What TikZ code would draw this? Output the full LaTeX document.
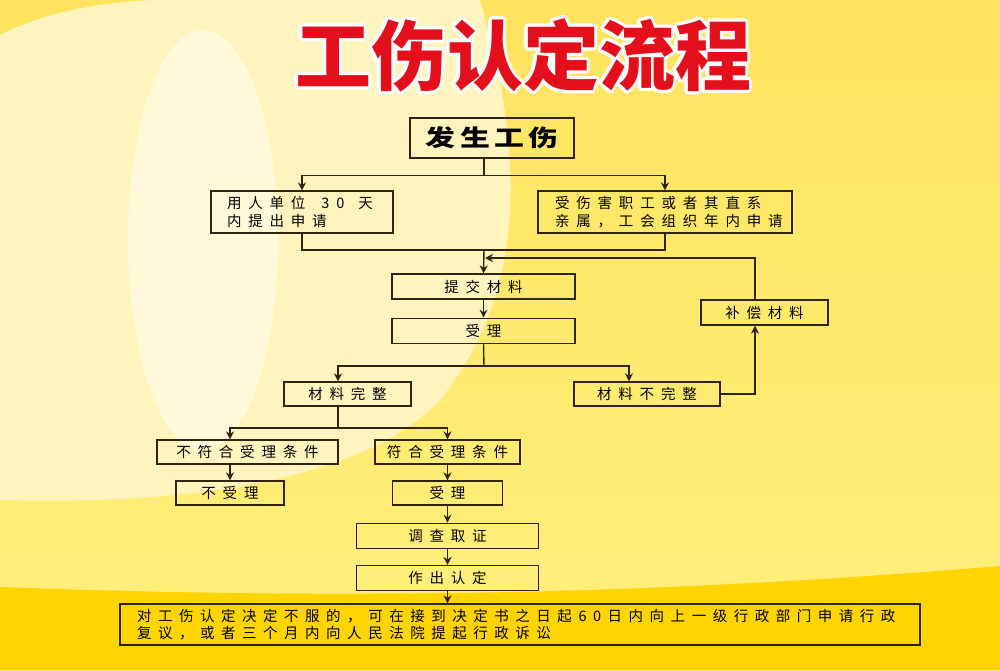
\documentclass[tikz,border=0pt]{standalone}
\usepackage{fontspec}
\usepackage[copies]{contour}
\usetikzlibrary{arrows.meta,positioning,calc}
\newfontfamily\titlefont{Noto Sans CJK SC}
\newfontfamily\headfont{Noto Sans CJK SC}[LetterSpace=18,FakeStretch=1.3]
\newfontfamily\boxfont{Noto Sans CJK SC}[LetterSpace=47]
\definecolor{bgtop}{HTML}{FFE35E}
\definecolor{bgbottom}{HTML}{FFF07E}
\definecolor{bgpale}{HTML}{FFF4BE}
\definecolor{bgglow}{HTML}{FFF9DA}
\definecolor{bgband}{HTML}{FFD400}
\definecolor{titlered}{HTML}{E3101C}
\definecolor{boxline}{HTML}{2E2410}
\contourlength{3.2pt}

\begin{document}
\begin{tikzpicture}[x=1pt,y=-1pt,
    >={Stealth[length=8pt,width=8pt]},
    link/.style={draw=boxline,line width=1.4pt},
    box/.style={draw=boxline,line width=1.3pt,minimum height=25pt,inner sep=0pt,
                font={\boxfont\fontsize{14.5pt}{17.5pt}\selectfont}},
    twoline/.style={box,minimum height=42pt,align=left,inner ysep=0pt},
    head/.style={draw=boxline,line width=1.3pt,minimum width=164pt,minimum height=40pt,
                 font={\headfont\bfseries\fontsize{23pt}{25pt}\selectfont}},
    title/.style={text=titlered,font={\titlefont\bfseries\fontsize{76pt}{80pt}\selectfont}}
  ]
  % background
  \fill[top color=bgtop,bottom color=bgbottom] (0,0) rectangle (1000,670);
  \fill[bgpale] (0,35) .. controls (45,12) and (100,2) .. (155,0) -- (480,0)
    .. controls (530,170) and (520,300) .. (440,400)
    .. controls (360,485) and (170,505) .. (0,500) -- cycle;
  \fill[bgglow] (203,240) ellipse [x radius=75pt,y radius=210pt];
  \fill[bgband] (0,587) .. controls (350,600) and (650,595) .. (1000,566)
    -- (1000,670) -- (0,670) -- cycle;

  \node[title] (title) at (523,57) {\contour{white}{工伤认定流程}};

  \node[head] (accident) at (492,138) {发生工伤};
  \node[twoline,minimum width=182pt,text width=150pt] (employer) at (302,212)
    {用人单位\hspace{16pt}30\hspace{14pt}天\\内提出申请};
  \node[twoline,minimum width=254pt,text width=220pt] (family) at (665,212)
    {受伤害职工或者其直系\\亲属，工会组织年内申请};
  \node[box,minimum width=183pt] (submit) at (483.5,286.5) {提交材料};
  \node[box,minimum width=183pt,below=18pt of submit] (accept) {受理};
  \node[box,minimum width=127pt] (supplement) at (764.5,312.5) {补偿材料};
  \node[box,minimum width=127pt,minimum height=24pt] (complete) at (347.5,394) {材料完整};
  \node[box,minimum width=146pt,minimum height=24pt] (incomplete) at (647,394) {材料不完整};
  \node[box,minimum width=181pt,minimum height=24pt] (nomatch) at (247.5,452) {不符合受理条件};
  \node[box,minimum width=145pt,minimum height=24pt] (match) at (447.5,452) {符合受理条件};
  \node[box,minimum width=108pt,minimum height=24pt] (reject) at (230,493) {不受理};
  \node[box,minimum width=110pt,minimum height=24pt] (admit) at (447.5,493) {受理};
  \node[box,minimum width=182pt,below=17pt of admit] (investigate) {调查取证};
  \node[box,minimum width=182pt,below=16pt of investigate] (decide) {作出认定};
  \node[box,minimum width=800pt,minimum height=41pt,text width=766pt,align=left,
        font={\boxfont\fontsize{14.5pt}{17.5pt}\selectfont\addfontfeature{LetterSpace=45}}]
    (appeal) at (520,624.5)
    {对工伤认定决定不服的，可在接到决定书之日起60日内向上一级行政部门申请行政\\复议，或者三个月内向人民法院提起行政诉讼};

  \coordinate (merge) at (484,250);
  \coordinate (back) at (485,258);
  \coordinate (split) at (484,366);
  \coordinate (split2) at (338,428);

  \draw[link,->] ([xshift=-8pt]accident.south) -- ++(0,17) -| (employer.north);
  \draw[link,->] ([xshift=-8pt]accident.south) -- ++(0,17) -| (family.north);
  \draw[link] (employer.south) |- (merge) -| (family.south);
  \draw[link,->] (merge) -- (submit.north);
  \draw[link,->] ([xshift=-9.5pt]supplement.north) |- (back);
  \draw[link,->] (submit) -- (accept);
  \draw[link] (accept.south) -- (split);
  \draw[link,->] (split) -| ([xshift=-9.5pt]complete.north);
  \draw[link,->] (split) -| ([xshift=-18pt]incomplete.north);
  \draw[link,->] (incomplete.east) -| ([xshift=-9.5pt]supplement.south);
  \draw[link] ([xshift=-9.5pt]complete.south) -- (split2);
  \draw[link,->] (split2) -| ([xshift=-17.5pt]nomatch.north);
  \draw[link,->] (split2) -| (match.north);
  \draw[link,->] ([xshift=-17.5pt]nomatch.south) -- (reject.north);
  \draw[link,->] (match) -- (admit);
  \draw[link,->] (admit) -- (investigate);
  \draw[link,->] (investigate) -- (decide);
  \draw[link,->] (decide.south) -- (decide.south |- appeal.north);
\end{tikzpicture}
\end{document}
